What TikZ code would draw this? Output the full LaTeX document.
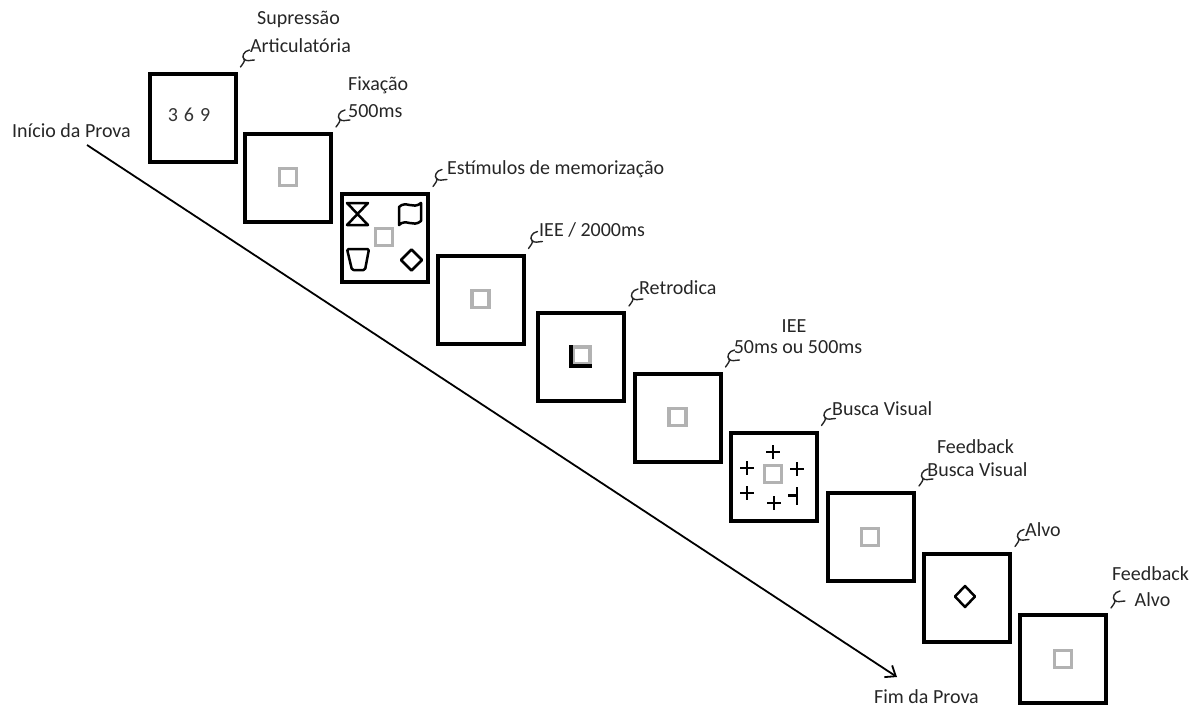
\documentclass[tikz,border=0pt]{standalone}
\usepackage{fontspec}
\setmainfont{Carlito}
\usetikzlibrary{arrows.meta}
\begin{document}
\begin{tikzpicture}[x=1pt,y=-1pt,
  scr/.style={draw=black,line width=4pt,minimum width=86pt,minimum height=88pt,inner sep=0pt},
  fixsq/.style={draw=black!30,line width=3.5pt,minimum size=17pt,inner sep=0pt},
  lbl/.style={font=\fontsize{20}{24}\selectfont,text=black!85,inner sep=0pt},
  squigline/.style={draw=black!85,line width=1.4pt,line cap=round},
  shp/.style={draw=black,line width=2.5pt,line join=round},
  plusmark/.style={draw=black,line width=2.6pt},
]
\useasboundingbox (0,0) rectangle (1197,706);

% screens
\node[scr] (b1) at (192.5,118) {};
\node[scr] (b2) at (288,178) {};
\node[scr] (b3) at (385,237.5) {};
\node[scr] (b4) at (480.5,299.5) {};
\node[scr] (b5) at (581,357) {};
\node[scr] (b6) at (677.5,418) {};
\node[scr] (b7) at (773.5,476.5) {};
\node[scr] (b8) at (871,537) {};
\node[scr] (b9) at (967,597.5) {};
\node[scr] (b10) at (1063,659) {};

% contents
\node[font=\fontsize{20}{22}\selectfont,text=black!80,inner sep=0pt] (digits) at (189,115) {3\hspace{0.3em}6\hspace{0.3em}9};
\node[fixsq] (f2) at (288,177) {};
\node[fixsq] (f3) at (384,237) {};
\node[fixsq] (f4) at (480.5,299) {};
\node[fixsq] (f5) at (581.5,355.5) {};
\draw[draw=black,line width=4pt] (f5.north west) -- (f5.south west) -- (f5.south east);
\node[fixsq] (f6) at (677.5,417) {};
\node[fixsq] (f7) at (773,474) {};
\node[fixsq] (f8) at (870,537) {};
\node[fixsq] (f10) at (1063,659) {};

% memory stimuli (box 3)
\draw[shp] (347,203) -- (368,203) -- (347,225) -- (368,225) -- cycle;
\draw[shp] (399,207) .. controls (406,200) and (413,210) .. (421,203) -- (421,221)
  .. controls (413,228) and (406,218) .. (399,225) -- cycle;
\draw[shp,rounded corners=1.5pt] (347,249) -- (369,249) -- (365,270) -- (352,270) -- cycle;
\draw[shp] (411.5,249.5) -- (422,260) -- (411.5,270.5) -- (401,260) -- cycle;

% visual search (box 7)
\foreach \cx/\cy in {773/452, 747/468, 797/469, 747/493, 774/503}{
  \draw[plusmark] (\cx-7,\cy) -- (\cx+7,\cy) (\cx,\cy-7) -- (\cx,\cy+7);
}
\draw[plusmark] (788,495.5) -- (797,495.5) (797,487) -- (797,505);

% target (box 9)
\draw[shp] (965,586) -- (975,596.5) -- (965,607) -- (955,596.5) -- cycle;

% squiggles (label callouts)
\foreach \b in {b1,b2,b3,b4,b5,b6,b7,b8,b9,b10}{
  \begin{scope}[shift={(\b.north east)}]
    \draw[squigline] (12,-22) .. controls (6,-21) and (4,-15) .. (6.5,-13)
      .. controls (8,-11) and (5,-8) .. (3,-5);
    \draw[squigline] (6.5,-13) .. controls (9,-10) and (13,-12) .. (17,-12);
  \end{scope}
}

% labels
\node[lbl,anchor=base] (l1a) at (298.5,25) {Supressão};
\node[lbl,anchor=base] (l1b) at (300.5,53) {Articulatória};
\node[lbl,anchor=base west] (l2a) at (348,91) {Fixação};
\node[lbl,anchor=base west] (l2b) at (348,118) {500ms};
\node[lbl,anchor=base west] (l3) at (447,175) {Estímulos de memorização};
\node[lbl,anchor=base west] (l4) at (539,236) {IEE / 2000ms};
\node[lbl,anchor=base west] (l5) at (639,294) {Retrodica};
\node[lbl,anchor=base] (l6a) at (794,332) {IEE};
\node[lbl,anchor=base] (l6b) at (798,353) {50ms ou 500ms};
\node[lbl,anchor=base west] (l7) at (832,415) {Busca Visual};
\node[lbl,anchor=base] (l8a) at (975.5,453) {Feedback};
\node[lbl,anchor=base] (l8b) at (977.5,476) {Busca Visual};
\node[lbl,anchor=base west] (l9) at (1025,536) {Alvo};
\node[lbl,anchor=base] (l10a) at (1150.5,580) {Feedback};
\node[lbl,anchor=base] (l10b) at (1152.5,606) {Alvo};
\node[lbl,anchor=base west] (ini) at (12,138) {Início da Prova};
\node[lbl,anchor=base] (fim) at (926.5,703) {Fim da Prova};

% time arrow
\coordinate (tstart) at (87,145);
\coordinate (tend) at (897,677);
\draw[line width=1.8pt,-{Straight Barb[length=9pt,width=14pt]}] (tstart) -- (tend);
\end{tikzpicture}
\end{document}
